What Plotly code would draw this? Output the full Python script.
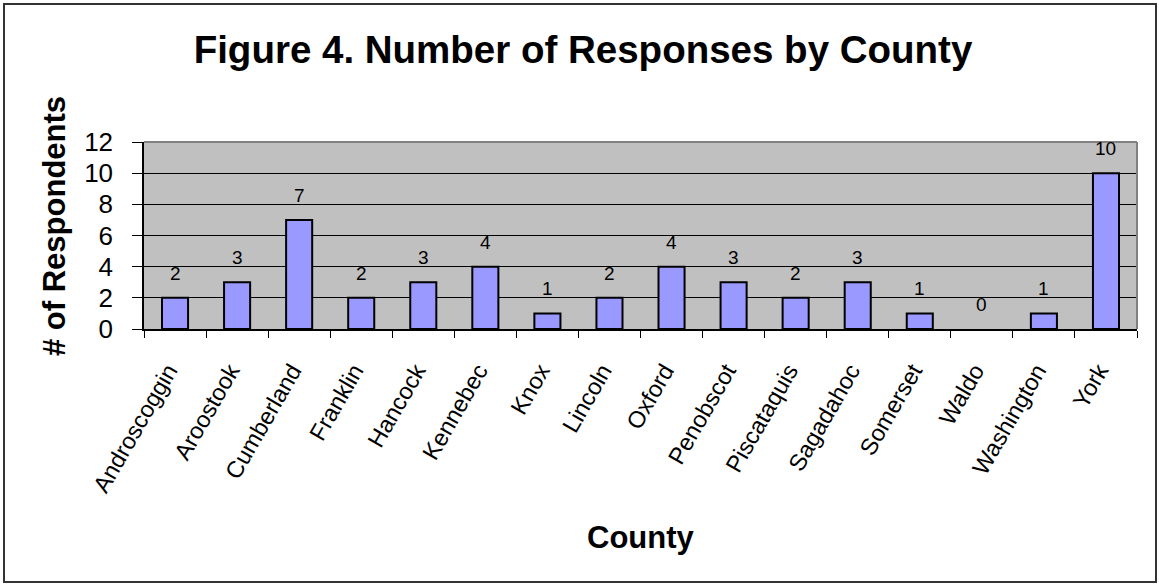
import plotly.graph_objects as go

counties = ["Androscoggin", "Aroostook", "Cumberland", "Franklin", "Hancock",
            "Kennebec", "Knox", "Lincoln", "Oxford", "Penobscot", "Piscataquis",
            "Sagadahoc", "Somerset", "Waldo", "Washington", "York"]
responses = [2, 3, 7, 2, 3, 4, 1, 2, 4, 3, 2, 3, 1, 0, 1, 10]
y_ticks = [0, 2, 4, 6, 8, 10, 12]

FONT = "Liberation Sans, Arial, sans-serif"

W, H = 1159, 585
L, R, T, B = 144, 22, 142, 256
pw, ph = W - L - R, H - T - B


def px(x):
    return (x - L) / pw


def py(y):
    return (H - B - y) / ph


fig = go.Figure()
fig.add_trace(go.Bar(
    x=counties, y=responses,
    marker=dict(color="#9999FF",
                line=dict(color="black", width=[2 if v > 0 else 0 for v in responses])),
    width=0.42,
))

for c, v in zip(counties, responses):
    fig.add_annotation(x=c, y=v, text=str(v), showarrow=False,
                       yanchor="bottom", yshift=12,
                       font=dict(family=FONT, size=19, color="black"))

# axis titles
fig.add_annotation(xref="paper", yref="paper", x=px(54), y=py(226),
                   text="<b># of Respondents</b>", textangle=-90, showarrow=False,
                   xanchor="center", yanchor="middle",
                   font=dict(family=FONT, size=31, color="black"))
fig.add_annotation(xref="paper", yref="paper", x=px(641), y=py(537),
                   text="<b>County</b>", showarrow=False,
                   xanchor="center", yanchor="middle",
                   font=dict(family=FONT, size=31, color="black"))

# outer chart border
fig.add_shape(type="rect", xref="paper", yref="paper",
              x0=px(4), x1=px(1156), y0=py(582), y1=py(4),
              line=dict(color="#333333", width=2), layer="above")
# plot area top/right border
fig.add_shape(type="line", xref="paper", yref="paper", x0=0, x1=1, y0=1, y1=1,
              line=dict(color="#808080", width=2), layer="above")
fig.add_shape(type="line", xref="paper", yref="paper", x0=1, x1=1, y0=0, y1=1,
              line=dict(color="#808080", width=2), layer="above")

fig.update_layout(
    width=W, height=H,
    margin=dict(l=L, r=R, t=T, b=B, autoexpand=False),
    paper_bgcolor="white", plot_bgcolor="#C0C0C0",
    showlegend=False,
    font=dict(family=FONT, color="black"),
    title=dict(text="<b>Figure 4. Number of Responses by County</b>",
               x=583 / W, xref="container", xanchor="center",
               y=1 - 50 / H, yanchor="middle", yref="container",
               font=dict(family=FONT, size=38.5, color="black")),
    bargap=0.58,
)

fig.update_xaxes(
    type="category", tickangle=-60, tickson="boundaries",
    ticks="outside", ticklen=7, tickcolor="black", tickwidth=1,
    showline=True, linecolor="black", linewidth=1.5,
    showgrid=False,
    ticklabelstandoff=17, ticklabelshift=-7,
    tickfont=dict(family=FONT, size=23.5, color="black"),
    automargin=False,
)
fig.update_yaxes(
    range=[0, 12], tickvals=y_ticks,
    ticks="outside", ticklen=10, tickcolor="black", tickwidth=1,
    showline=True, linecolor="black", linewidth=1.5,
    showgrid=True, gridcolor="black", gridwidth=1,
    zeroline=False,
    ticklabelstandoff=14,
    tickfont=dict(family=FONT, size=26, color="black"),
    automargin=False,
)

fig.write_html("out.html")
